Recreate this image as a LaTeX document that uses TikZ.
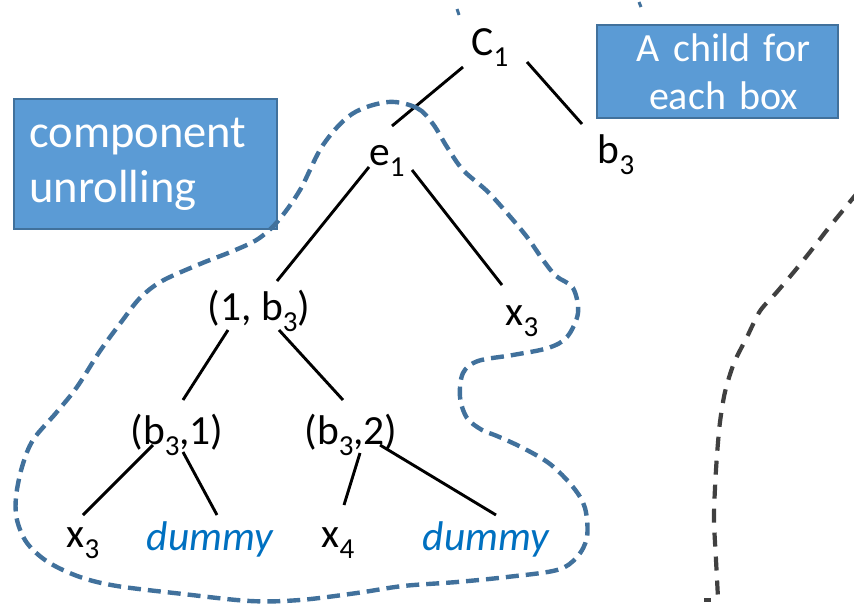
\documentclass[tikz,border=0pt]{standalone}
\usepackage{fontspec}
\setmainfont{Carlito}
\usetikzlibrary{calc}
\definecolor{boxfill}{HTML}{5B9BD5}
\definecolor{boxedge}{HTML}{41719C}
\definecolor{blobblue}{HTML}{41719C}
\definecolor{dummyblue}{HTML}{0070C0}
\definecolor{darkgray}{HTML}{404040}
\newcommand\subsc[1]{\raisebox{-0.27em}{\fontsize{29}{29}\selectfont #1}}
\tikzset{
  lbl/.style={anchor=base, inner sep=0pt, font=\fontsize{41.5}{50}\selectfont},
  dum/.style={lbl, text=dummyblue, font=\fontsize{41.5}{50}\selectfont\itshape},
  edge/.style={line width=2.9pt, black},
  blob/.style={draw=blobblue, line width=4.4pt, dash pattern=on 13pt off 7pt},
  graydash/.style={draw=darkgray, line width=4.2pt, dash pattern=on 14pt off 10pt},
  callout/.style={draw=boxedge, line width=1.8pt, fill=boxfill, text=white, inner sep=0pt}
}
\begin{document}
\begin{tikzpicture}[x=1pt,y=-1pt]
\useasboundingbox (0,0) rectangle (854,605);

% callout boxes
\node[callout, minimum width=263pt, minimum height=130pt, text width=232pt, align=left,
      font=\fontsize{46.5}{55}\selectfont] (unroll) at (145.5,164) {component\\unrolling};
\node[callout, minimum width=241pt, minimum height=93pt, text width=241pt, align=center,
      font=\fontsize{40}{48}\selectfont] (child) at (717.5,71.5) {\hspace*{12pt}A child for\\\hspace*{12pt}each box};

% tree nodes (base anchors)
\node[lbl] (c1)  at (490,55)  {C\subsc{1}};
\node[lbl] (e1)  at (387,165) {e\subsc{1}};
\node[lbl] (b3)  at (616,163) {b\subsc{3}};
\node[lbl] (p1)  at (259,320) {(1, b\subsc{3})};
\node[lbl] (x3a) at (522,325) {x\subsc{3}};
\node[lbl] (q1)  at (177,444) {(b\subsc{3},1)};
\node[lbl] (q2)  at (351,444) {(b\subsc{3},2)};
\node[lbl] (x3b) at (83,547)  {x\subsc{3}};
\node[dum] (d1)  at (210,550) {dummy};
\node[lbl] (x4)  at (338,547) {x\subsc{4}};
\node[dum] (d2)  at (486,550) {dummy};

% edges
\draw[edge] ($(c1.base)+(-27,12)$) -- ($(e1.base)+(5,-39)$);
\draw[edge] ($(c1.base)+(37,7)$)   -- ($(b3.base)+(-34,-39)$);
\draw[edge] ($(e1.base)+(-18,2)$)  -- ($(p1.base)+(18,-39)$);
\draw[edge] ($(e1.base)+(25,5)$)   -- ($(x3a.base)+(-20,-40)$);
\draw[edge] ($(p1.base)+(-31,10)$) -- ($(q1.base)+(6,-44)$);
\draw[edge] ($(p1.base)+(20,10)$)  -- ($(q2.base)+(-8,-44)$);
\draw[edge] ($(q1.base)+(-24,1)$)  -- ($(x3b.base)+(0,-32)$);
\draw[edge] ($(q1.base)+(6,8)$)    -- ($(d1.base)+(7,-35)$);
\draw[edge] ($(q2.base)+(9,9)$)    -- ($(x4.base)+(6,-42)$);
\draw[edge] ($(q2.base)+(29,1)$)   -- ($(d2.base)+(10,-35)$);

% dashed blob around the unrolled component
\draw[blob] plot[smooth cycle, tension=0.55] coordinates {
 (388,102) (417,108) (433,124) (447,147) (463,170) (487,191) (507,213) (527,237)
 (543,260) (556,276) (573,288) (578,313) (567,337) (548,348) (513,355) (478,361)
 (463,373) (460,397) (467,418) (482,430) (497,436) (523,448) (550,464) (573,487)
 (585,508) (587,537) (577,557) (557,570) (507,577) (457,582) (403,586) (357,593)
 (300,600) (250,601) (183,594) (117,586) (80,577) (48,562) (27,543) (17,520)
 (16,497) (22,467) (33,440) (56,413) (77,387) (100,351) (122,321) (140,298)
 (162,281) (200,264) (233,251) (258,239) (278,221) (300,190) (323,145) (352,114)
};

% right grey dashed curve
\draw[graydash] plot[smooth, tension=0.5] coordinates {
 (858,192) (840,214) (827,230) (810,252) (793,273) (776,293) (760,311) (747,337)
 (734,363) (725,392) (720,422) (717,455) (715,488) (714,520) (716,560) (718,598)
};
\draw[draw=darkgray, line width=3.5pt] (704,600) -- (711,600);

% stray marks at the top edge
\draw[draw=blobblue, line width=3pt] (457,9) -- (459,15);
\draw[draw=blobblue, line width=3pt] (639,2) -- (641,7);
\end{tikzpicture}
\end{document}
